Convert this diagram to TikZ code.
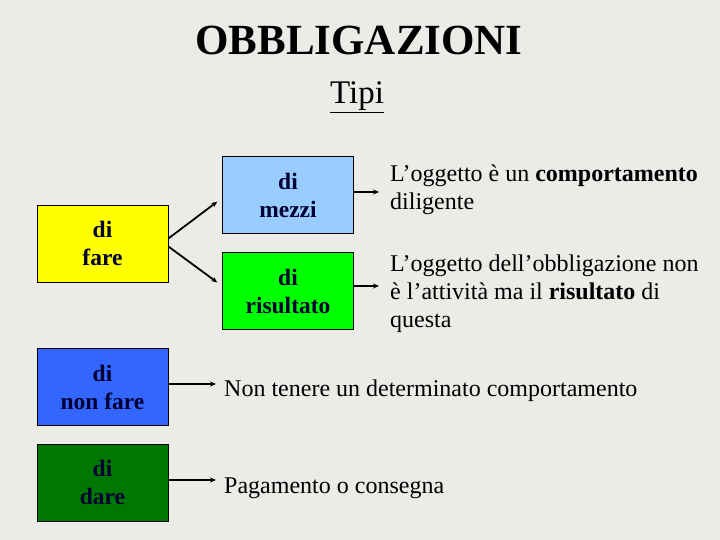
\documentclass[tikz,border=0pt]{standalone}
\usepackage{fontspec}
\setmainfont{Liberation Serif}
\usetikzlibrary{arrows.meta}

\definecolor{sfondo}{HTML}{EBEBE8}
\definecolor{blu}{HTML}{000033}
\definecolor{giallo}{HTML}{FFFF00}
\definecolor{celeste}{HTML}{99CCFF}
\definecolor{verde}{HTML}{00FF00}
\definecolor{azzurro}{HTML}{3366FF}
\definecolor{verdescuro}{HTML}{007700}

\tikzset{
  tipo/.style={draw=black, line width=0.8pt, minimum width=131pt, minimum height=77pt,
    align=center, text=blu, font=\fontsize{23.5}{28}\selectfont\bfseries},
  descr/.style={anchor=west, inner sep=0pt, align=left,
    font=\fontsize{24}{28}\selectfont},
  freccia/.style={-{Stealth[length=6pt,width=5pt]}, line width=1.8pt},
}

\begin{document}
\begin{tikzpicture}[x=1pt, y=-1pt]

% background
\fill[sfondo] (0,0) rectangle (720,540);
\useasboundingbox (0,0) rectangle (720,540);

% title
\node (titolo) at (359,40) {\fontsize{43}{48}\selectfont\bfseries OBBLIGAZIONI};
\node (tipi) at (357,97) {\fontsize{33}{36}\selectfont\underline{Tipi}};

% boxes
\node[tipo, fill=giallo] (fare) at (102.5,243.5) {di\\fare};
\node[tipo, fill=celeste] (mezzi) at (288,195) {di\\mezzi};
\node[tipo, fill=verde] (risultato) at (288,291) {di\\risultato};
\node[tipo, fill=azzurro] (nonfare) at (102.5,387) {di\\non fare};
\node[tipo, fill=verdescuro] (dare) at (102.5,482.5) {di\\dare};

% descriptions
\node[descr] (mezzitxt) at (390,190) {L’oggetto è un \textbf{comportamento}\\diligente};
\node[descr] (risultatotxt) at (390,294) {L’oggetto dell’obbligazione non\\è l’attività ma il \textbf{risultato} di\\questa};
\node[descr] (nonfaretxt) at (224,391) {Non tenere un determinato comportamento};
\node[descr] (daretxt) at (224,488) {Pagamento o consegna};

% arrows
\draw[freccia, shorten >=6pt] ([yshift=5pt]fare.east) -- ([yshift=-3pt]mezzi.west);
\draw[freccia, shorten >=6pt] ([yshift=-3pt]fare.east) -- ([yshift=5pt]risultato.west);
\draw[freccia, shorten >=11pt] ([yshift=3pt]mezzi.east) -- ([yshift=3pt]mezzi.east -| mezzitxt.west);
\draw[freccia, shorten >=11pt] ([yshift=5pt]risultato.east) -- ([yshift=5pt]risultato.east -| risultatotxt.west);
\draw[freccia, shorten >=8pt] ([yshift=3pt]nonfare.east) -- ([yshift=3pt]nonfare.east -| nonfaretxt.west);
\draw[freccia, shorten >=8pt] ([yshift=2.5pt]dare.east) -- ([yshift=2.5pt]dare.east -| daretxt.west);

\end{tikzpicture}
\end{document}
